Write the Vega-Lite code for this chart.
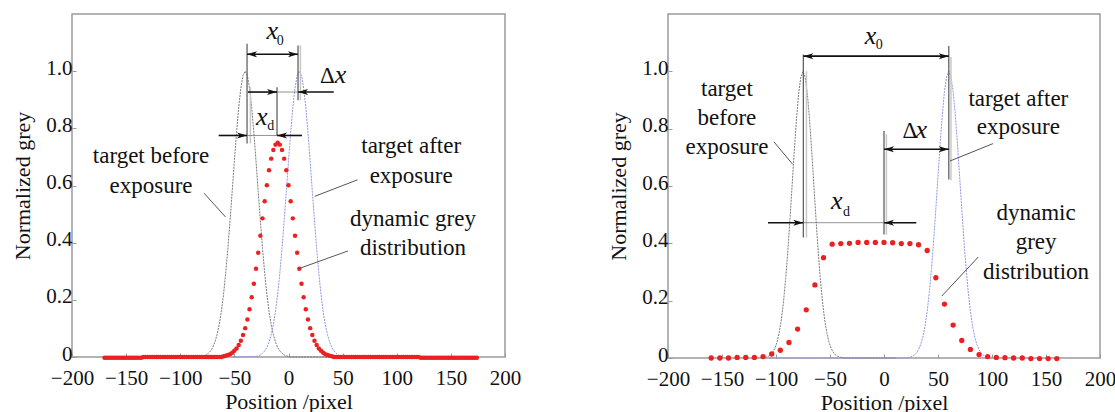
{
  "$schema": "https://vega.github.io/schema/vega-lite/v6.json",
  "padding": {"left": 11, "top": 13, "right": 0, "bottom": 0},
  "background": "white",
  "config": {
    "font": "Liberation Serif, Times New Roman, serif",
    "text": {"font": "Liberation Serif, Times New Roman, serif"},
    "view": {"stroke": "#9a9a9a", "strokeWidth": 1.5},
    "axis": {"domain": false, "grid": false, "tickColor": "#9a9a9a", "tickSize": -4, "labelFontSize": 21, "titleFontSize": 22, "labelColor": "#111", "titleColor": "#111", "titleFontWeight": "normal", "labelFont": "Liberation Serif, Times New Roman, serif", "titleFont": "Liberation Serif, Times New Roman, serif"}
  },
  "datasets": {
    "curvesL": [
      {"x": -80, "y": 0.002, "s": "before"}, {"x": -78, "y": 0.004, "s": "before"}, {"x": -76, "y": 0.007, "s": "before"}, {"x": -74, "y": 0.013, "s": "before"}, {"x": -72, "y": 0.021, "s": "before"}, {"x": -70, "y": 0.033, "s": "before"}, {"x": -68, "y": 0.052, "s": "before"}, {"x": -66, "y": 0.078, "s": "before"}, {"x": -64, "y": 0.113, "s": "before"}, {"x": -62, "y": 0.16, "s": "before"}, {"x": -60, "y": 0.22, "s": "before"}, {"x": -58, "y": 0.294, "s": "before"}, {"x": -56, "y": 0.38, "s": "before"}, {"x": -54, "y": 0.477, "s": "before"}, {"x": -52, "y": 0.58, "s": "before"}, {"x": -50, "y": 0.685, "s": "before"}, {"x": -48, "y": 0.785, "s": "before"}, {"x": -46, "y": 0.873, "s": "before"}, {"x": -44, "y": 0.941, "s": "before"}, {"x": -42, "y": 0.985, "s": "before"}, {"x": -40, "y": 1.0, "s": "before"}, {"x": -38, "y": 0.985, "s": "before"}, {"x": -36, "y": 0.941, "s": "before"}, {"x": -34, "y": 0.873, "s": "before"}, {"x": -32, "y": 0.785, "s": "before"}, {"x": -30, "y": 0.685, "s": "before"}, {"x": -28, "y": 0.58, "s": "before"}, {"x": -26, "y": 0.477, "s": "before"}, {"x": -24, "y": 0.38, "s": "before"}, {"x": -22, "y": 0.294, "s": "before"}, {"x": -20, "y": 0.22, "s": "before"}, {"x": -18, "y": 0.16, "s": "before"}, {"x": -16, "y": 0.113, "s": "before"}, {"x": -14, "y": 0.078, "s": "before"}, {"x": -12, "y": 0.052, "s": "before"}, {"x": -10, "y": 0.033, "s": "before"}, {"x": -8, "y": 0.021, "s": "before"}, {"x": -6, "y": 0.013, "s": "before"}, {"x": -4, "y": 0.007, "s": "before"}, {"x": -2, "y": 0.004, "s": "before"}, {"x": 0, "y": 0.002, "s": "before"}, {"x": 2, "y": 0, "s": "before"}, {"x": 40, "y": 0, "s": "before"},
      {"x": -52, "y": 0, "s": "after"}, {"x": -30, "y": 0.002, "s": "after"}, {"x": -28, "y": 0.004, "s": "after"}, {"x": -26, "y": 0.007, "s": "after"}, {"x": -24, "y": 0.013, "s": "after"}, {"x": -22, "y": 0.021, "s": "after"}, {"x": -20, "y": 0.033, "s": "after"}, {"x": -18, "y": 0.052, "s": "after"}, {"x": -16, "y": 0.078, "s": "after"}, {"x": -14, "y": 0.113, "s": "after"}, {"x": -12, "y": 0.16, "s": "after"}, {"x": -10, "y": 0.22, "s": "after"}, {"x": -8, "y": 0.294, "s": "after"}, {"x": -6, "y": 0.38, "s": "after"}, {"x": -4, "y": 0.477, "s": "after"}, {"x": -2, "y": 0.58, "s": "after"}, {"x": 0, "y": 0.685, "s": "after"}, {"x": 2, "y": 0.785, "s": "after"}, {"x": 4, "y": 0.873, "s": "after"}, {"x": 6, "y": 0.941, "s": "after"}, {"x": 8, "y": 0.985, "s": "after"}, {"x": 10, "y": 1.0, "s": "after"}, {"x": 12, "y": 0.985, "s": "after"}, {"x": 14, "y": 0.941, "s": "after"}, {"x": 16, "y": 0.873, "s": "after"}, {"x": 18, "y": 0.785, "s": "after"}, {"x": 20, "y": 0.685, "s": "after"}, {"x": 22, "y": 0.58, "s": "after"}, {"x": 24, "y": 0.477, "s": "after"}, {"x": 26, "y": 0.38, "s": "after"}, {"x": 28, "y": 0.294, "s": "after"}, {"x": 30, "y": 0.22, "s": "after"}, {"x": 32, "y": 0.16, "s": "after"}, {"x": 34, "y": 0.113, "s": "after"}, {"x": 36, "y": 0.078, "s": "after"}, {"x": 38, "y": 0.052, "s": "after"}, {"x": 40, "y": 0.033, "s": "after"}, {"x": 42, "y": 0.021, "s": "after"}, {"x": 44, "y": 0.013, "s": "after"}, {"x": 46, "y": 0.007, "s": "after"}, {"x": 48, "y": 0.004, "s": "after"}, {"x": 50, "y": 0.002, "s": "after"}, {"x": 60, "y": 0, "s": "after"}
    ],
    "dotsL": [
      {"x": -170, "y": -0.003}, {"x": -168, "y": -0.003}, {"x": -166, "y": -0.003}, {"x": -164, "y": -0.003}, {"x": -162, "y": -0.003}, {"x": -160, "y": -0.003}, {"x": -158, "y": -0.003}, {"x": -156, "y": -0.003}, {"x": -154, "y": -0.003}, {"x": -152, "y": -0.003}, {"x": -150, "y": -0.003}, {"x": -148, "y": -0.003}, {"x": -146, "y": -0.003}, {"x": -144, "y": -0.003}, {"x": -142, "y": -0.003}, {"x": -140, "y": -0.003}, {"x": -138, "y": -0.003}, {"x": -136, "y": -0.003},
      {"x": -134, "y": 0}, {"x": -132, "y": 0}, {"x": -130, "y": 0}, {"x": -128, "y": 0}, {"x": -126, "y": 0}, {"x": -124, "y": 0}, {"x": -122, "y": 0}, {"x": -120, "y": 0}, {"x": -118, "y": 0}, {"x": -116, "y": 0}, {"x": -114, "y": 0}, {"x": -112, "y": 0}, {"x": -110, "y": 0}, {"x": -108, "y": 0}, {"x": -106, "y": 0}, {"x": -104, "y": 0}, {"x": -102, "y": 0}, {"x": -100, "y": 0}, {"x": -98, "y": 0}, {"x": -96, "y": 0}, {"x": -94, "y": 0}, {"x": -92, "y": 0}, {"x": -90, "y": 0}, {"x": -88, "y": 0}, {"x": -86, "y": 0}, {"x": -84, "y": 0}, {"x": -82, "y": 0}, {"x": -80, "y": 0}, {"x": -78, "y": 0}, {"x": -76, "y": 0}, {"x": -74, "y": 0}, {"x": -72, "y": 0}, {"x": -70, "y": 0}, {"x": -68, "y": 0}, {"x": -66, "y": 0}, {"x": -64, "y": 0}, {"x": -62, "y": 0},
      {"x": -60, "y": 0.003}, {"x": -58, "y": 0.004}, {"x": -56, "y": 0.007}, {"x": -54, "y": 0.01}, {"x": -52, "y": 0.015}, {"x": -50, "y": 0.022}, {"x": -48, "y": 0.03}, {"x": -46, "y": 0.042}, {"x": -44, "y": 0.057}, {"x": -42, "y": 0.077}, {"x": -40, "y": 0.101}, {"x": -38, "y": 0.131}, {"x": -36, "y": 0.167}, {"x": -34, "y": 0.209}, {"x": -32, "y": 0.256}, {"x": -30, "y": 0.309}, {"x": -28, "y": 0.365}, {"x": -26, "y": 0.424}, {"x": -24, "y": 0.485}, {"x": -22, "y": 0.545}, {"x": -20, "y": 0.601}, {"x": -18, "y": 0.653}, {"x": -16, "y": 0.694}, {"x": -14, "y": 0.724}, {"x": -12, "y": 0.743}, {"x": -10, "y": 0.75}, {"x": -8, "y": 0.743}, {"x": -6, "y": 0.724}, {"x": -4, "y": 0.694}, {"x": -2, "y": 0.653}, {"x": 0, "y": 0.601}, {"x": 2, "y": 0.545}, {"x": 4, "y": 0.485}, {"x": 6, "y": 0.424}, {"x": 8, "y": 0.365}, {"x": 10, "y": 0.309}, {"x": 12, "y": 0.256}, {"x": 14, "y": 0.209}, {"x": 16, "y": 0.167}, {"x": 18, "y": 0.131}, {"x": 20, "y": 0.101}, {"x": 22, "y": 0.077}, {"x": 24, "y": 0.057}, {"x": 26, "y": 0.042}, {"x": 28, "y": 0.03}, {"x": 30, "y": 0.022}, {"x": 32, "y": 0.015}, {"x": 34, "y": 0.01}, {"x": 36, "y": 0.007}, {"x": 38, "y": 0.004}, {"x": 40, "y": 0.003},
      {"x": 42, "y": 0}, {"x": 44, "y": 0}, {"x": 46, "y": 0}, {"x": 48, "y": 0}, {"x": 50, "y": 0}, {"x": 52, "y": 0}, {"x": 54, "y": 0}, {"x": 56, "y": 0}, {"x": 58, "y": 0}, {"x": 60, "y": 0}, {"x": 62, "y": 0}, {"x": 64, "y": 0}, {"x": 66, "y": 0}, {"x": 68, "y": 0}, {"x": 70, "y": 0}, {"x": 72, "y": 0}, {"x": 74, "y": 0}, {"x": 76, "y": 0}, {"x": 78, "y": 0}, {"x": 80, "y": 0}, {"x": 82, "y": 0}, {"x": 84, "y": 0}, {"x": 86, "y": 0}, {"x": 88, "y": 0}, {"x": 90, "y": 0}, {"x": 92, "y": 0}, {"x": 94, "y": 0}, {"x": 96, "y": 0}, {"x": 98, "y": 0}, {"x": 100, "y": 0}, {"x": 102, "y": 0}, {"x": 104, "y": 0}, {"x": 106, "y": 0}, {"x": 108, "y": 0}, {"x": 110, "y": 0}, {"x": 112, "y": 0}, {"x": 114, "y": 0}, {"x": 116, "y": 0}, {"x": 118, "y": 0}, {"x": 120, "y": 0},
      {"x": 122, "y": -0.003}, {"x": 124, "y": -0.003}, {"x": 126, "y": -0.003}, {"x": 128, "y": -0.003}, {"x": 130, "y": -0.003}, {"x": 132, "y": -0.003}, {"x": 134, "y": -0.003}, {"x": 136, "y": -0.003}, {"x": 138, "y": -0.003}, {"x": 140, "y": -0.003}, {"x": 142, "y": -0.003}, {"x": 144, "y": -0.003}, {"x": 146, "y": -0.003}, {"x": 148, "y": -0.003}, {"x": 150, "y": -0.003}, {"x": 152, "y": -0.003}, {"x": 154, "y": -0.003}, {"x": 156, "y": -0.003}, {"x": 158, "y": -0.003}, {"x": 160, "y": -0.003}, {"x": 162, "y": -0.003}, {"x": 164, "y": -0.003}, {"x": 166, "y": -0.003}, {"x": 168, "y": -0.003}, {"x": 170, "y": -0.003}, {"x": 172, "y": -0.003}, {"x": 174, "y": -0.003}
    ],
    "rulesL": [
      {"x": -38.3, "y": 1.096, "x2": -38.3, "y2": 0.747, "k": "dark"},
      {"x": -10.6, "y": 0.944, "x2": -10.6, "y2": 0.775, "k": "dark"},
      {"x": 8.8, "y": 1.09, "x2": 8.8, "y2": 0.898, "k": "dark"},
      {"x": -35.2, "y": 0.944, "x2": -35.2, "y2": 0.747, "k": "light"},
      {"x": 11, "y": 1.09, "x2": 11, "y2": 0.898, "k": "light"},
      {"x": -38.3, "y": 1.059, "x2": 8.8, "y2": 1.059, "k": "shaft"},
      {"x": -37.5, "y": 0.927, "x2": -10.6, "y2": 0.927, "k": "shaft"},
      {"x": -10.6, "y": 0.927, "x2": 8.8, "y2": 0.927, "k": "thin"},
      {"x": 8.8, "y": 0.927, "x2": 41.8, "y2": 0.927, "k": "shaft"},
      {"x": -64.5, "y": 0.775, "x2": -38.3, "y2": 0.775, "k": "shaft"},
      {"x": -38.3, "y": 0.775, "x2": -10.6, "y2": 0.775, "k": "thin"},
      {"x": -10.6, "y": 0.775, "x2": 12.5, "y2": 0.775, "k": "shaft"},
      {"x": -78, "y": 0.573, "x2": -58.2, "y2": 0.49, "k": "leader"},
      {"x": 63.8, "y": 0.62, "x2": 24.2, "y2": 0.562, "k": "leader"},
      {"x": 54.9, "y": 0.371, "x2": 9.4, "y2": 0.309, "k": "leader"}
    ],
    "arrowsL": [
      {"x": -38.3, "y": 1.059, "d": "L"}, {"x": 8.8, "y": 1.059, "d": "R"},
      {"x": -10.6, "y": 0.927, "d": "R"}, {"x": 8.8, "y": 0.927, "d": "L"},
      {"x": -38.3, "y": 0.775, "d": "R"}, {"x": -10.6, "y": 0.775, "d": "L"}
    ],
    "textL": [
      {"x": -127, "y": 0.68, "t": "target before", "k": "label"},
      {"x": -127, "y": 0.573, "t": "exposure", "k": "label"},
      {"x": 113.3, "y": 0.713, "t": "target after", "k": "label"},
      {"x": 113.3, "y": 0.61, "t": "exposure", "k": "label"},
      {"x": 115, "y": 0.457, "t": "dynamic grey", "k": "label"},
      {"x": 115, "y": 0.358, "t": "distribution", "k": "label"},
      {"x": -15, "y": 1.114, "t": "x", "k": "ital"},
      {"x": -7.6, "y": 1.09, "t": "0", "k": "sub"},
      {"x": 36, "y": 0.96, "t": "Δ", "k": "label"},
      {"x": 48, "y": 0.96, "t": "x", "k": "ital"},
      {"x": -24.7, "y": 0.812, "t": "x", "k": "ital"},
      {"x": -16.4, "y": 0.795, "t": "d", "k": "sub"}
    ],
    "curvesR": [
      {"x": -113, "y": 0, "s": "before"}, {"x": -111, "y": 0.002, "s": "before"}, {"x": -109, "y": 0.003, "s": "before"}, {"x": -107, "y": 0.006, "s": "before"}, {"x": -105, "y": 0.011, "s": "before"}, {"x": -103, "y": 0.02, "s": "before"}, {"x": -101, "y": 0.034, "s": "before"}, {"x": -99, "y": 0.056, "s": "before"}, {"x": -97, "y": 0.089, "s": "before"}, {"x": -95, "y": 0.135, "s": "before"}, {"x": -93, "y": 0.198, "s": "before"}, {"x": -91, "y": 0.278, "s": "before"}, {"x": -89, "y": 0.375, "s": "before"}, {"x": -87, "y": 0.487, "s": "before"}, {"x": -85, "y": 0.607, "s": "before"}, {"x": -83, "y": 0.726, "s": "before"}, {"x": -81, "y": 0.835, "s": "before"}, {"x": -79, "y": 0.923, "s": "before"}, {"x": -77, "y": 0.98, "s": "before"}, {"x": -75, "y": 1.0, "s": "before"}, {"x": -73, "y": 0.98, "s": "before"}, {"x": -71, "y": 0.923, "s": "before"}, {"x": -69, "y": 0.835, "s": "before"}, {"x": -67, "y": 0.726, "s": "before"}, {"x": -65, "y": 0.607, "s": "before"}, {"x": -63, "y": 0.487, "s": "before"}, {"x": -61, "y": 0.375, "s": "before"}, {"x": -59, "y": 0.278, "s": "before"}, {"x": -57, "y": 0.198, "s": "before"}, {"x": -55, "y": 0.135, "s": "before"}, {"x": -53, "y": 0.089, "s": "before"}, {"x": -51, "y": 0.056, "s": "before"}, {"x": -49, "y": 0.034, "s": "before"}, {"x": -47, "y": 0.02, "s": "before"}, {"x": -45, "y": 0.011, "s": "before"}, {"x": -43, "y": 0.006, "s": "before"}, {"x": -41, "y": 0.003, "s": "before"}, {"x": -39, "y": 0.002, "s": "before"}, {"x": -37, "y": 0, "s": "before"}, {"x": 11, "y": 0, "s": "before"},
      {"x": -106, "y": 0, "s": "after"}, {"x": 22, "y": 0, "s": "after"}, {"x": 24, "y": 0.003, "s": "after"}, {"x": 26, "y": 0.005, "s": "after"}, {"x": 28, "y": 0.01, "s": "after"}, {"x": 30, "y": 0.017, "s": "after"}, {"x": 32, "y": 0.029, "s": "after"}, {"x": 34, "y": 0.047, "s": "after"}, {"x": 36, "y": 0.073, "s": "after"}, {"x": 38, "y": 0.111, "s": "after"}, {"x": 40, "y": 0.163, "s": "after"}, {"x": 42, "y": 0.23, "s": "after"}, {"x": 44, "y": 0.313, "s": "after"}, {"x": 46, "y": 0.411, "s": "after"}, {"x": 48, "y": 0.521, "s": "after"}, {"x": 50, "y": 0.635, "s": "after"}, {"x": 52, "y": 0.748, "s": "after"}, {"x": 54, "y": 0.849, "s": "after"}, {"x": 56, "y": 0.93, "s": "after"}, {"x": 58, "y": 0.982, "s": "after"}, {"x": 60, "y": 1.0, "s": "after"}, {"x": 62, "y": 0.982, "s": "after"}, {"x": 64, "y": 0.93, "s": "after"}, {"x": 66, "y": 0.849, "s": "after"}, {"x": 68, "y": 0.748, "s": "after"}, {"x": 70, "y": 0.635, "s": "after"}, {"x": 72, "y": 0.521, "s": "after"}, {"x": 74, "y": 0.411, "s": "after"}, {"x": 76, "y": 0.313, "s": "after"}, {"x": 78, "y": 0.23, "s": "after"}, {"x": 80, "y": 0.163, "s": "after"}, {"x": 82, "y": 0.111, "s": "after"}, {"x": 84, "y": 0.073, "s": "after"}, {"x": 86, "y": 0.047, "s": "after"}, {"x": 88, "y": 0.029, "s": "after"}, {"x": 90, "y": 0.017, "s": "after"}, {"x": 92, "y": 0.01, "s": "after"}, {"x": 94, "y": 0.005, "s": "after"}, {"x": 96, "y": 0.003, "s": "after"}, {"x": 100, "y": 0, "s": "after"}
    ],
    "dotsR": [
      {"x": -160, "y": 0}, {"x": -152, "y": 0}, {"x": -144, "y": 0}, {"x": -136, "y": 0.002}, {"x": -128, "y": 0.002}, {"x": -120, "y": 0.002}, {"x": -112, "y": 0.005}, {"x": -104, "y": 0.014}, {"x": -96, "y": 0.027}, {"x": -88, "y": 0.054}, {"x": -80, "y": 0.101}, {"x": -72, "y": 0.168}, {"x": -64, "y": 0.255}, {"x": -56, "y": 0.35}, {"x": -48, "y": 0.397}, {"x": -40, "y": 0.399}, {"x": -32, "y": 0.4}, {"x": -24, "y": 0.403}, {"x": -16, "y": 0.403}, {"x": -8, "y": 0.403}, {"x": 0, "y": 0.403}, {"x": 8, "y": 0.402}, {"x": 16, "y": 0.399}, {"x": 24, "y": 0.399}, {"x": 32, "y": 0.395}, {"x": 40, "y": 0.375}, {"x": 48, "y": 0.28}, {"x": 56, "y": 0.188}, {"x": 64, "y": 0.115}, {"x": 72, "y": 0.061}, {"x": 80, "y": 0.03}, {"x": 88, "y": 0.012}, {"x": 96, "y": 0.005}, {"x": 104, "y": 0.002}, {"x": 112, "y": 0.001}, {"x": 120, "y": 0}, {"x": 128, "y": 0}, {"x": 136, "y": -0.002}, {"x": 144, "y": -0.002}, {"x": 152, "y": -0.002}, {"x": 160, "y": -0.002}
    ],
    "rulesR": [
      {"x": -74.7, "y": 1.059, "x2": -74.7, "y2": 0.42, "k": "dark"},
      {"x": 60, "y": 1.088, "x2": 60, "y2": 0.623, "k": "dark"},
      {"x": 0, "y": 0.792, "x2": 0, "y2": 0.431, "k": "dark"},
      {"x": -71.8, "y": 1.0, "x2": -71.8, "y2": 0.42, "k": "light"},
      {"x": 2.2, "y": 0.78, "x2": 2.2, "y2": 0.43, "k": "light"},
      {"x": 62, "y": 1.05, "x2": 62, "y2": 0.62, "k": "light"},
      {"x": -74.7, "y": 1.053, "x2": 60, "y2": 1.053, "k": "shaft"},
      {"x": 0, "y": 0.728, "x2": 60, "y2": 0.728, "k": "shaft"},
      {"x": -107.4, "y": 0.472, "x2": -74.7, "y2": 0.472, "k": "shaft"},
      {"x": -74.7, "y": 0.472, "x2": 0, "y2": 0.472, "k": "thin"},
      {"x": 0, "y": 0.472, "x2": 29.9, "y2": 0.472, "k": "shaft"},
      {"x": -101.9, "y": 0.754, "x2": -84.6, "y2": 0.676, "k": "leader"},
      {"x": 101, "y": 0.748, "x2": 61, "y2": 0.687, "k": "leader"},
      {"x": 87.2, "y": 0.352, "x2": 53.5, "y2": 0.216, "k": "leader"}
    ],
    "arrowsR": [
      {"x": -74.7, "y": 1.053, "d": "L"}, {"x": 60, "y": 1.053, "d": "R"},
      {"x": 0, "y": 0.728, "d": "L"}, {"x": 60, "y": 0.728, "d": "R"},
      {"x": -74.7, "y": 0.472, "d": "R"}, {"x": 0, "y": 0.472, "d": "L"}
    ],
    "textR": [
      {"x": -145.4, "y": 0.914, "t": "target", "k": "label"},
      {"x": -145.4, "y": 0.813, "t": "before", "k": "label"},
      {"x": -145.4, "y": 0.711, "t": "exposure", "k": "label"},
      {"x": 124.4, "y": 0.879, "t": "target after", "k": "label"},
      {"x": 124.4, "y": 0.78, "t": "exposure", "k": "label"},
      {"x": 140.8, "y": 0.48, "t": "dynamic", "k": "label"},
      {"x": 140.8, "y": 0.379, "t": "grey", "k": "label"},
      {"x": 140.8, "y": 0.275, "t": "distribution", "k": "label"},
      {"x": -12.6, "y": 1.096, "t": "x", "k": "ital"},
      {"x": -4.4, "y": 1.077, "t": "0", "k": "sub"},
      {"x": 24, "y": 0.768, "t": "Δ", "k": "label"},
      {"x": 34.5, "y": 0.768, "t": "x", "k": "ital"},
      {"x": -43.7, "y": 0.519, "t": "x", "k": "ital"},
      {"x": -34.8, "y": 0.495, "t": "d", "k": "sub"}
    ]
  },
  "bounds": "flush",
  "spacing": 163,
  "hconcat": [
    {
      "width": 433, "height": 343,
      "encoding": {
        "x": {"field": "x", "type": "quantitative", "scale": {"domain": [-200, 200], "nice": false, "zero": false}, "axis": {"values": [-200, -150, -100, -50, 0, 50, 100, 150, 200], "title": "Position /pixel", "labelFlush": false, "labelOverlap": false, "labelPadding": 14, "titlePadding": 3}},
        "y": {"field": "y", "type": "quantitative", "scale": {"domain": [0, 1.2], "nice": false, "zero": false}, "axis": {"values": [0, 0.2, 0.4, 0.6, 0.8, 1], "labelExpr": "datum.value == 0 ? '0' : format(datum.value, '.1f')", "title": "Normalized grey", "labelPadding": 4, "labelOffset": -3, "titlePadding": 11, "labelOverlap": false}}
      },
      "layer": [
        {"data": {"name": "curvesL"}, "mark": {"type": "line", "strokeWidth": 1, "strokeDash": [2, 1]}, "encoding": {"color": {"field": "s", "type": "nominal", "scale": {"domain": ["before", "after"], "range": ["#7a7a7a", "#8e96e0"]}, "legend": null}}},
        {"data": {"name": "dotsL"}, "mark": {"type": "point", "filled": true, "size": 20, "color": "#ec2020", "opacity": 1}},
        {"data": {"name": "rulesL"}, "transform": [{"filter": "datum.k == 'light'"}], "mark": {"type": "rule", "color": "#c8c8c8", "strokeWidth": 1.5}, "encoding": {"x2": {"field": "x2"}, "y2": {"field": "y2"}}},
        {"data": {"name": "rulesL"}, "transform": [{"filter": "datum.k == 'dark'"}], "mark": {"type": "rule", "color": "#555555", "strokeWidth": 1.2}, "encoding": {"x2": {"field": "x2"}, "y2": {"field": "y2"}}},
        {"data": {"name": "rulesL"}, "transform": [{"filter": "datum.k == 'thin'"}], "mark": {"type": "rule", "color": "#777777", "strokeWidth": 0.8}, "encoding": {"x2": {"field": "x2"}, "y2": {"field": "y2"}}},
        {"data": {"name": "rulesL"}, "transform": [{"filter": "datum.k == 'leader'"}], "mark": {"type": "rule", "color": "#555555", "strokeWidth": 1}, "encoding": {"x2": {"field": "x2"}, "y2": {"field": "y2"}}},
        {"data": {"name": "rulesL"}, "transform": [{"filter": "datum.k == 'shaft'"}], "mark": {"type": "rule", "color": "#111111", "strokeWidth": 1.6}, "encoding": {"x2": {"field": "x2"}, "y2": {"field": "y2"}}},
        {"data": {"name": "arrowsL"}, "transform": [{"filter": "datum.d == 'R'"}], "mark": {"type": "point", "shape": "M0,0L-2,-0.6L-1.5,0L-2,0.6Z", "filled": true, "size": 100, "color": "#111111", "opacity": 1}},
        {"data": {"name": "arrowsL"}, "transform": [{"filter": "datum.d == 'L'"}], "mark": {"type": "point", "shape": "M0,0L2,-0.6L1.5,0L2,0.6Z", "filled": true, "size": 100, "color": "#111111", "opacity": 1}},
        {"data": {"name": "textL"}, "transform": [{"filter": "datum.k == 'label'"}], "mark": {"type": "text", "align": "center", "baseline": "alphabetic", "fontSize": 23, "font": "Liberation Serif, Times New Roman, serif", "color": "#111111"}, "encoding": {"text": {"field": "t"}}},
        {"data": {"name": "textL"}, "transform": [{"filter": "datum.k == 'ital'"}], "mark": {"type": "text", "align": "center", "baseline": "alphabetic", "fontSize": 26, "fontStyle": "italic", "font": "Liberation Serif, Times New Roman, serif", "color": "#111111"}, "encoding": {"text": {"field": "t"}}},
        {"data": {"name": "textL"}, "transform": [{"filter": "datum.k == 'sub'"}], "mark": {"type": "text", "align": "center", "baseline": "alphabetic", "fontSize": 14, "font": "Liberation Serif, Times New Roman, serif", "color": "#111111"}, "encoding": {"text": {"field": "t"}}}
      ]
    },
    {
      "width": 432, "height": 344,
      "encoding": {
        "x": {"field": "x", "type": "quantitative", "scale": {"domain": [-200, 200], "nice": false, "zero": false}, "axis": {"values": [-200, -150, -100, -50, 0, 50, 100, 150, 200], "title": "Position /pixel", "labelFlush": false, "labelOverlap": false, "labelPadding": 14, "titlePadding": 3}},
        "y": {"field": "y", "type": "quantitative", "scale": {"domain": [0, 1.2], "nice": false, "zero": false}, "axis": {"values": [0, 0.2, 0.4, 0.6, 0.8, 1], "labelExpr": "datum.value == 0 ? '0' : format(datum.value, '.1f')", "title": "Normalized grey", "labelPadding": 4, "labelOffset": -3, "titlePadding": 11, "labelOverlap": false}}
      },
      "layer": [
        {"data": {"name": "curvesR"}, "mark": {"type": "line", "strokeWidth": 1, "strokeDash": [2, 1]}, "encoding": {"color": {"field": "s", "type": "nominal", "scale": {"domain": ["before", "after"], "range": ["#7a7a7a", "#8e96e0"]}, "legend": null}}},
        {"data": {"name": "dotsR"}, "mark": {"type": "point", "filled": true, "size": 28, "color": "#ec2020", "opacity": 1}},
        {"data": {"name": "rulesR"}, "transform": [{"filter": "datum.k == 'light'"}], "mark": {"type": "rule", "color": "#c8c8c8", "strokeWidth": 1.5}, "encoding": {"x2": {"field": "x2"}, "y2": {"field": "y2"}}},
        {"data": {"name": "rulesR"}, "transform": [{"filter": "datum.k == 'dark'"}], "mark": {"type": "rule", "color": "#555555", "strokeWidth": 1.2}, "encoding": {"x2": {"field": "x2"}, "y2": {"field": "y2"}}},
        {"data": {"name": "rulesR"}, "transform": [{"filter": "datum.k == 'thin'"}], "mark": {"type": "rule", "color": "#777777", "strokeWidth": 0.8}, "encoding": {"x2": {"field": "x2"}, "y2": {"field": "y2"}}},
        {"data": {"name": "rulesR"}, "transform": [{"filter": "datum.k == 'leader'"}], "mark": {"type": "rule", "color": "#555555", "strokeWidth": 1}, "encoding": {"x2": {"field": "x2"}, "y2": {"field": "y2"}}},
        {"data": {"name": "rulesR"}, "transform": [{"filter": "datum.k == 'shaft'"}], "mark": {"type": "rule", "color": "#111111", "strokeWidth": 1.6}, "encoding": {"x2": {"field": "x2"}, "y2": {"field": "y2"}}},
        {"data": {"name": "arrowsR"}, "transform": [{"filter": "datum.d == 'R'"}], "mark": {"type": "point", "shape": "M0,0L-2,-0.6L-1.5,0L-2,0.6Z", "filled": true, "size": 100, "color": "#111111", "opacity": 1}},
        {"data": {"name": "arrowsR"}, "transform": [{"filter": "datum.d == 'L'"}], "mark": {"type": "point", "shape": "M0,0L2,-0.6L1.5,0L2,0.6Z", "filled": true, "size": 100, "color": "#111111", "opacity": 1}},
        {"data": {"name": "textR"}, "transform": [{"filter": "datum.k == 'label'"}], "mark": {"type": "text", "align": "center", "baseline": "alphabetic", "fontSize": 23, "font": "Liberation Serif, Times New Roman, serif", "color": "#111111"}, "encoding": {"text": {"field": "t"}}},
        {"data": {"name": "textR"}, "transform": [{"filter": "datum.k == 'ital'"}], "mark": {"type": "text", "align": "center", "baseline": "alphabetic", "fontSize": 26, "fontStyle": "italic", "font": "Liberation Serif, Times New Roman, serif", "color": "#111111"}, "encoding": {"text": {"field": "t"}}},
        {"data": {"name": "textR"}, "transform": [{"filter": "datum.k == 'sub'"}], "mark": {"type": "text", "align": "center", "baseline": "alphabetic", "fontSize": 14, "font": "Liberation Serif, Times New Roman, serif", "color": "#111111"}, "encoding": {"text": {"field": "t"}}}
      ]
    }
  ]
}
